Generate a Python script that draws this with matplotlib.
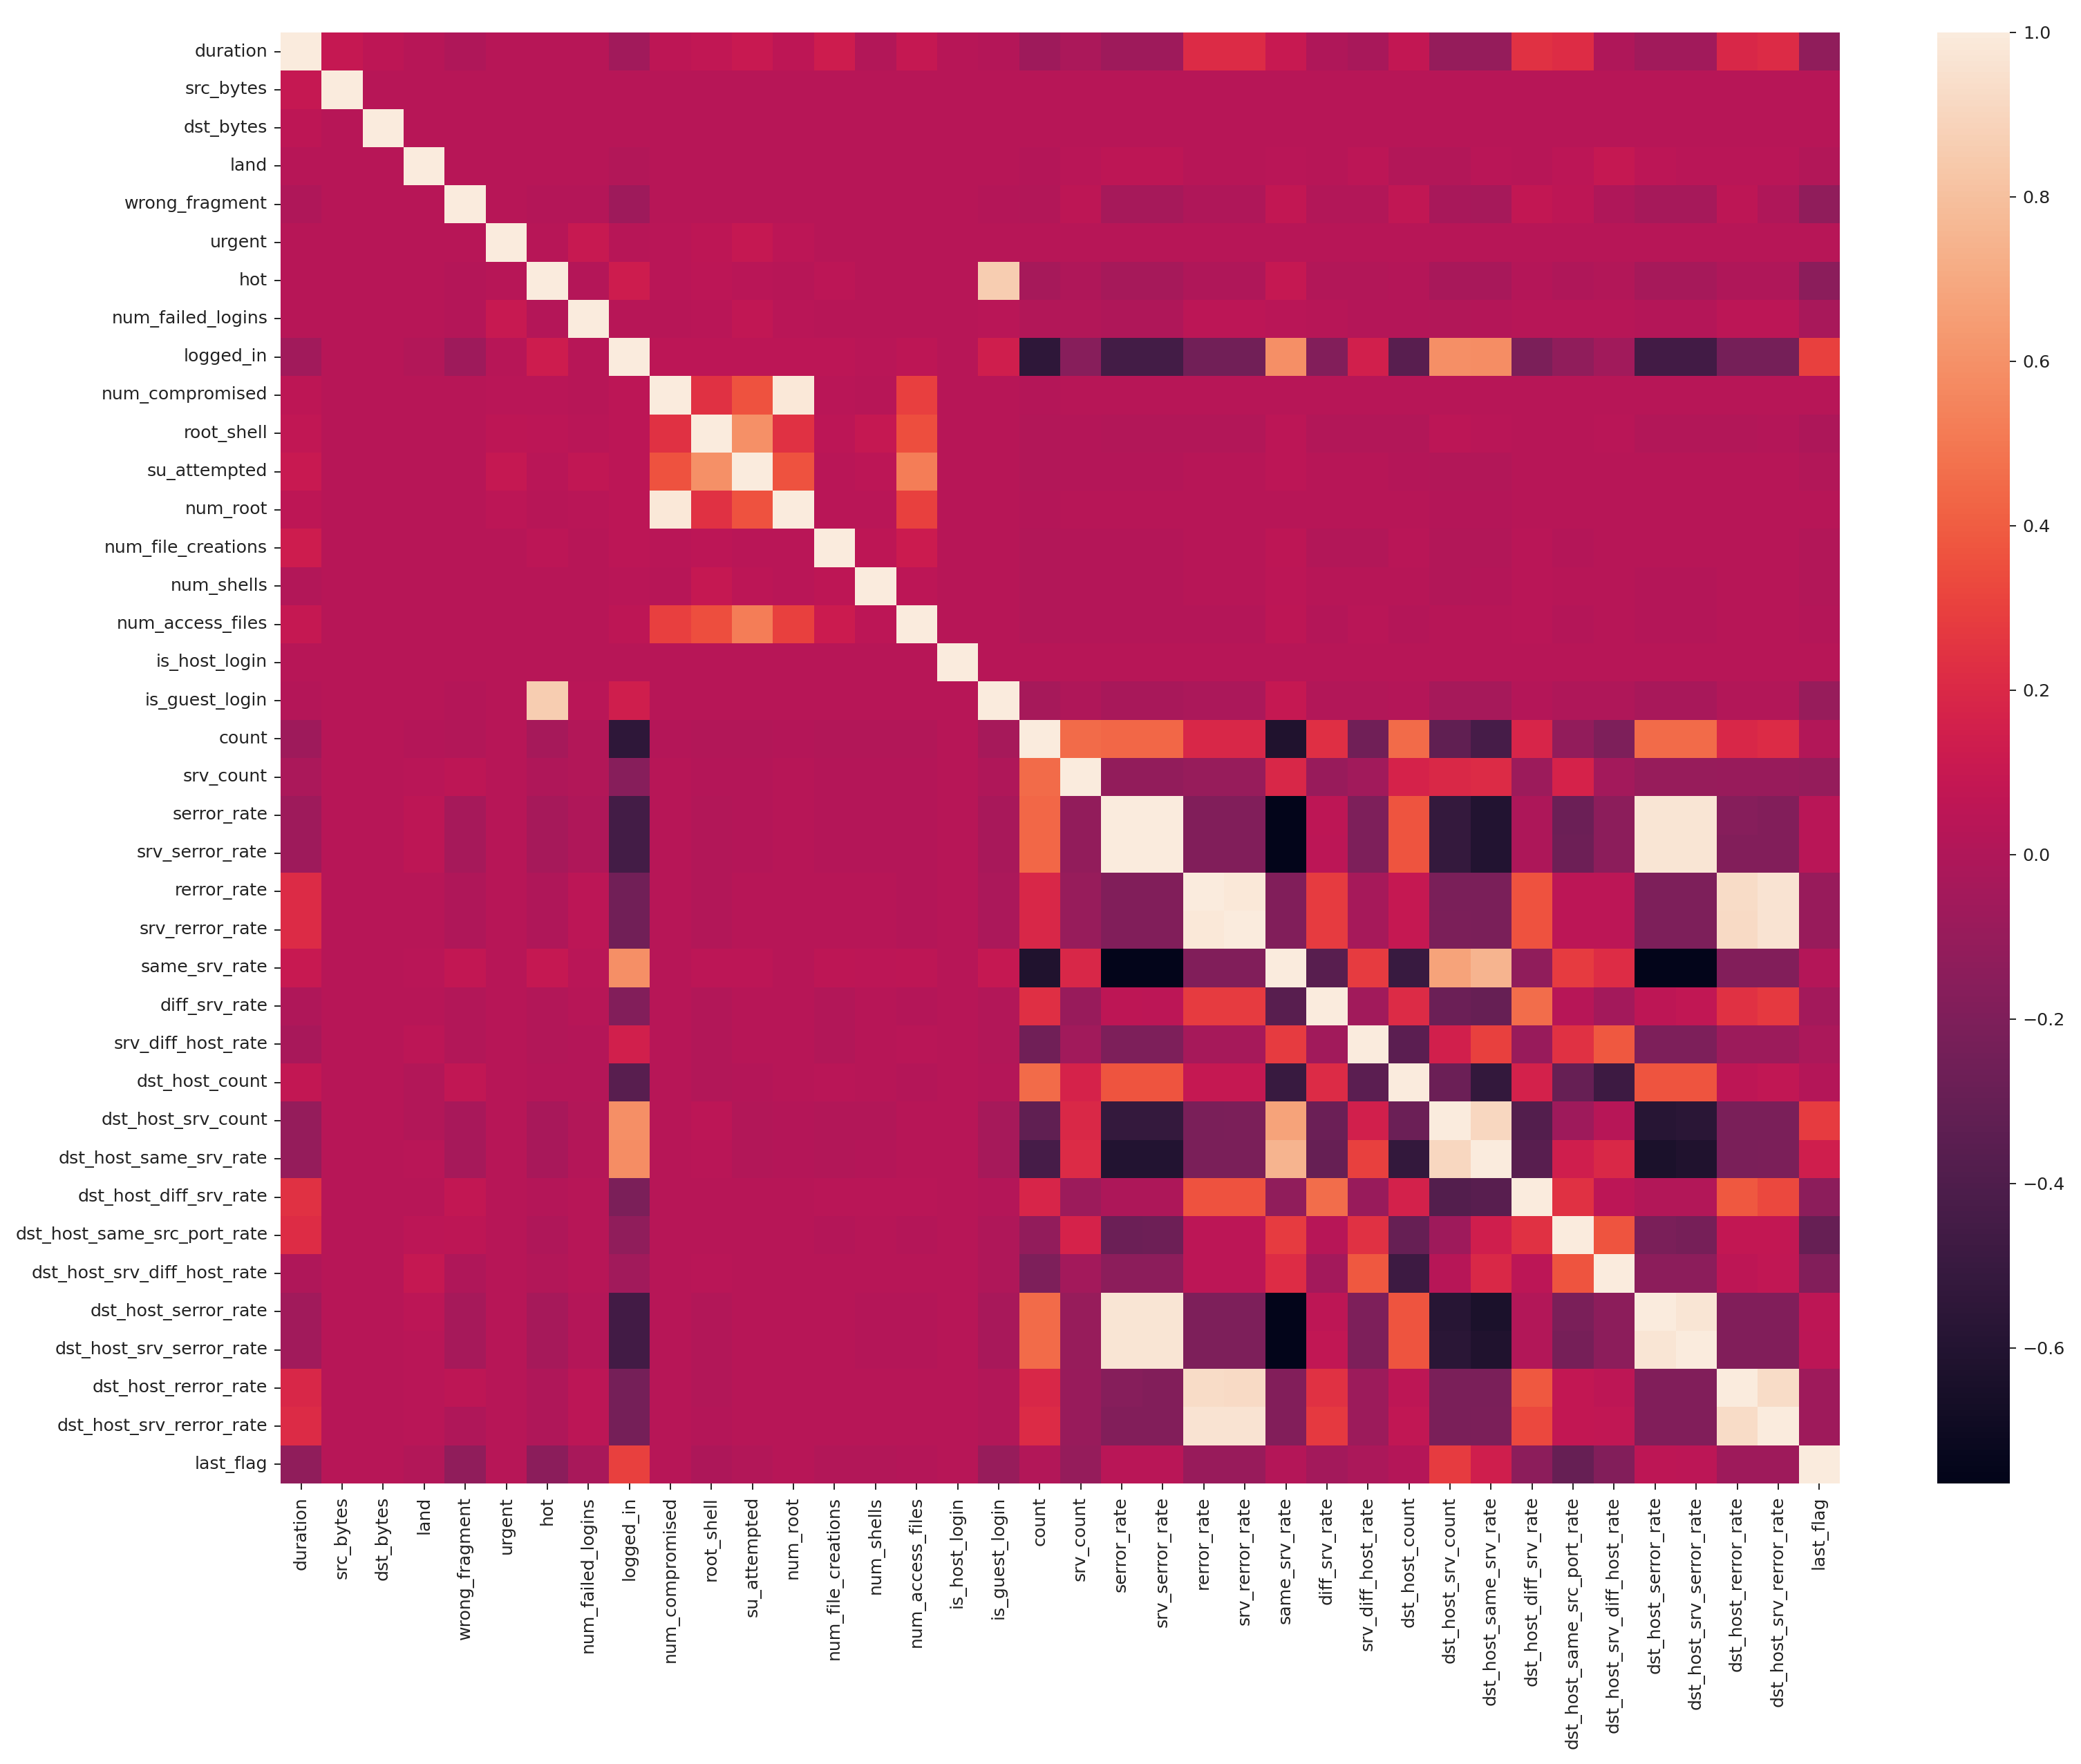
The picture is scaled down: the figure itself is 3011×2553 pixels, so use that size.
import numpy as np
import matplotlib
matplotlib.use('Agg')
import matplotlib.pyplot as plt
import seaborn as sns

labels = ['duration', 'src_bytes', 'dst_bytes', 'land', 'wrong_fragment', 'urgent', 'hot',
          'num_failed_logins', 'logged_in', 'num_compromised', 'root_shell', 'su_attempted',
          'num_root', 'num_file_creations', 'num_shells', 'num_access_files', 'is_host_login',
          'is_guest_login', 'count', 'srv_count', 'serror_rate', 'srv_serror_rate', 'rerror_rate',
          'srv_rerror_rate', 'same_srv_rate', 'diff_srv_rate', 'srv_diff_host_rate',
          'dst_host_count', 'dst_host_srv_count', 'dst_host_same_srv_rate',
          'dst_host_diff_srv_rate', 'dst_host_same_src_port_rate', 'dst_host_srv_diff_host_rate',
          'dst_host_serror_rate', 'dst_host_srv_serror_rate', 'dst_host_rerror_rate',
          'dst_host_srv_rerror_rate', 'last_flag']

# correlations, upper triangle, each row starts right of the diagonal
r_duration = [.09, .06, .03, 0, .03, .03, .03, -.06, .06, .07, .11, .06, .13, .01, .09, .03, .02,
              -.07, -.02, -.07, -.07, .21, .21, .1, 0, -.03, .08, -.11, -.11, .24, .22, 0, -.06, -.06, .19, .21, -.13]
r_src_bytes = [.03] * 36
r_dst_bytes = [.03] * 35
r_land = [.03, .03, .03, .03, .01, .03, .03, .03, .03, .03, .03, .03, .03, .03,
          .02, .04, .06, .06, .03, .03, .04, .03, .05, .01, .01, .04, .03, .05, .09, .05, .04, .04, .04, .01]
r_wrong_fragment = [.03, .02, .02, -.07, .03, .03, .03, .03, .03, .03, .03, .03, .02,
                    .01, .06, -.04, -.04, 0, 0, .08, .01, .01, .07, -.03, -.04, .08, .06, 0, -.04, -.04, .06, 0, -.13]
r_urgent = [.03, .1, .03, .04, .06, .09, .05, .03, .03, .03, .03, .03] + [.03] * 20
r_hot = [.02, .13, .04, .05, .04, .03, .05, .03, .03, .03, .86,
         -.04, 0, -.04, -.04, 0, 0, .09, .01, .01, .02, -.03, -.03, .02, 0, .01, -.04, -.04, 0, 0, -.15]
r_num_failed_logins = [.03, .03, .04, .07, .04, .03, .03, .03, .03, .04,
                       .01, .01, 0, 0, .05, .05, .04, .03, .02, .02, .01, .02, .03, .03, .03, .02, .02, .05, .05, -.03]
r_logged_in = [.05, .05, .05, .05, .05, .04, .06, .03, .14,
               -.55, -.16, -.45, -.45, -.25, -.25, .59, -.18, .15, -.36, .59, .58, -.21, -.13, -.06, -.46, -.46, -.24, -.24, .3]
r_num_compromised = [.24, .36, .98, .04, .03, .29, .03, .03] + [.02, .03] + [.03] * 18
r_root_shell = [.6, .24, .05, .09, .35, .03, .03,
                .01, .02, .01, .01, .01, .01, .05, .01, .01, .01, .05, .04, .03, .03, .04, .01, .01, .01, .02, -.01]
r_su_attempted = [.36, .04, .05, .52, .03, .03,
                  .01, .02, .02, .02, .03, .03, .05, .03, .03, .02, .01, .01, .03, .03, .03, .03, .03, .03, .03, .01]
r_num_root = [.04, .04, .3, .03, .03, .02, .03, .03, .03, .03, .03, .03, .03, .03, .03, .02, .02, .03, .03, .03, .03, .03, .03, .03, .03]
r_num_file_creations = [.06, .12, .03, .03, .01, .02, .02, .02, .03, .03, .06, .01, .01, .04, .01, .01, .04, .02, .03, .03, .03, .03, .03, .01]
r_num_shells = [.05, .03, .03, .01, .02, .02, .02, .03, .03, .05, .03, .03, .03, .01, .02, .04, .03, .03, .02, .02, .03, .03, .01]
r_num_access_files = [.03, .03, .01, .02, .02, .02, .02, .02, .06, .02, .04, .02, .03, .03, .04, .02, .03, .02, .02, .03, .03, .02]
r_is_host_login = [.03] * 21
r_is_guest_login = [-.04, 0, -.03, -.03, -.02, -.02, .09, .01, .01, .02, -.04, -.04, .02, 0, 0, -.03, -.03, .01, .01, -.1]
r_count = [.45, .44, .44, .19, .19, -.62, .23, -.26, .45, -.33, -.44, .18, -.12, -.2, .45, .45, .19, .21, .01]
r_srv_count = [-.12, -.12, -.1, -.1, .19, -.09, -.06, .17, .2, .21, -.08, .17, -.05, -.1, -.1, -.09, -.09, -.11]
r_serror_rate = [1.0, -.19, -.19, -.765, .06, -.2, .37, -.52, -.6, -.01, -.28, -.14, .97, .97, -.17, -.18, .04]
r_srv_serror_rate = [-.19, -.19, -.765, .05, -.2, .37, -.52, -.6, -.01, -.27, -.14, .97, .97, -.18, -.18, .04]
r_rerror_rate = [.98, -.19, .28, -.04, .09, -.22, -.22, .36, .05, .05, -.2, -.2, .93, .96, -.09]
r_srv_rerror_rate = [-.19, .28, -.04, .09, -.21, -.22, .36, .05, .05, -.2, -.2, .92, .96, -.09]
r_same_srv_rate = [-.36, .28, -.5, .67, .75, -.13, .28, .22, -.765, -.765, -.18, -.18, .02]
r_diff_srv_rate = [-.06, .21, -.28, -.3, .46, .03, -.05, .06, .07, .24, .27, -.05]
r_srv_diff_host_rate = [-.35, .15, .3, -.09, .24, .38, -.2, -.2, -.08, -.08, -.02]
r_dst_host_count = [-.28, -.53, .16, -.3, -.48, .37, .37, .06, .07, .02]
r_dst_host_srv_count = [.91, -.38, -.07, .03, -.58, -.57, -.22, -.22, .28]
r_dst_host_same_srv_rate = [-.36, .14, .2, -.64, -.62, -.22, -.21, .14]
r_dst_host_diff_srv_rate = [.24, .05, .01, .01, .38, .33, -.14]
r_dst_host_same_src_port_rate = [.37, -.22, -.23, .08, .08, -.3]
r_dst_host_srv_diff_host_rate = [-.14, -.14, .06, .07, -.18]
r_dst_host_serror_rate = [.97, -.19, -.19, .06]
r_dst_host_srv_serror_rate = [-.19, -.19, .05]
r_dst_host_rerror_rate = [.93, -.07]
r_dst_host_srv_rerror_rate = [-.07]

rows = [r_duration, r_src_bytes, r_dst_bytes, r_land, r_wrong_fragment, r_urgent, r_hot,
        r_num_failed_logins, r_logged_in, r_num_compromised, r_root_shell, r_su_attempted,
        r_num_root, r_num_file_creations, r_num_shells, r_num_access_files, r_is_host_login,
        r_is_guest_login, r_count, r_srv_count, r_serror_rate, r_srv_serror_rate, r_rerror_rate,
        r_srv_rerror_rate, r_same_srv_rate, r_diff_srv_rate, r_srv_diff_host_rate,
        r_dst_host_count, r_dst_host_srv_count, r_dst_host_same_srv_rate,
        r_dst_host_diff_srv_rate, r_dst_host_same_src_port_rate, r_dst_host_srv_diff_host_rate,
        r_dst_host_serror_rate, r_dst_host_srv_serror_rate, r_dst_host_rerror_rate,
        r_dst_host_srv_rerror_rate]

n = len(labels)
corr = np.eye(n)
for i, r in enumerate(rows):
    corr[i, i + 1:] = r
    corr[i + 1:, i] = r

W, H = 3011, 2553
fig = plt.figure(figsize=(W / 100, H / 100), dpi=100)
ax = fig.add_axes([406 / W, 1 - 2147 / H, (2662 - 406) / W, (2147 - 47) / H])
cax = fig.add_axes([2803 / W, 1 - 2147 / H, (2908 - 2803) / W, (2147 - 47) / H])

sns.heatmap(corr, ax=ax, cbar_ax=cax, xticklabels=labels, yticklabels=labels)

ax.tick_params(axis='both', labelsize=18.2, length=6.5, width=1.4, pad=7, colors='#222222')
ax.tick_params(axis='x', labelrotation=90)
ax.tick_params(axis='y', labelrotation=0)
cax.tick_params(labelsize=18.2, length=6.5, width=1.4, pad=7, colors='#222222')

fig.savefig('out.png', dpi=100)
